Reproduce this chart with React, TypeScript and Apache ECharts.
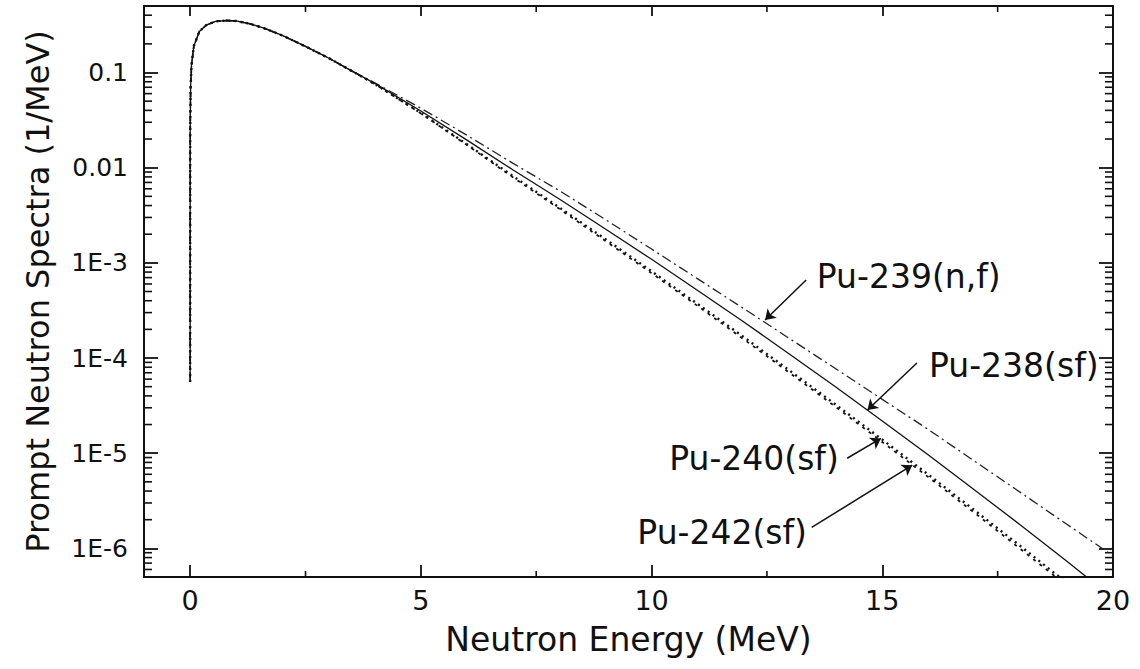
import React, { useEffect, useRef } from 'react';
import * as echarts from 'echarts';

// ---- data ----
const LOW_E = [0, 0.001, 0.01, 0.03, 0.08, 0.2, 0.35, 0.55, 0.8, 1.0, 1.3, 1.6, 2.0, 2.5, 3.0, 3.5];
const LOW_VALUES = [5.6e-5, 0.022, 0.07, 0.12, 0.19, 0.27, 0.315, 0.345, 0.352, 0.348, 0.325, 0.292, 0.245, 0.188, 0.142, 0.104];

const TAIL_E = [4, 5, 6, 7, 8, 9, 10, 11, 12, 13, 14, 15, 16, 17, 18, 19, 20];
const PU239_NF = [0.078, 0.0422, 0.0219, 0.01109, 5.75e-3, 2.85e-3, 1.396e-3, 6.79e-4, 3.3e-4, 1.59e-4, 7.66e-5, 3.68e-5, 1.77e-5, 8.24e-6, 3.85e-6, 1.79e-6, 8.36e-7];
const PU238_SF = [0.0768, 0.0394, 0.0195, 9.46e-3, 4.68e-3, 2.27e-3, 1.089e-3, 5.13e-4, 2.39e-4, 1.091e-4, 4.92e-5, 2.18e-5, 9.57e-6, 4.11e-6, 1.75e-6, 7.31e-7, 3.0e-7];
const PU240_SF = [0.0759, 0.0376, 0.0176, 8.13e-3, 3.82e-3, 1.774e-3, 8.15e-4, 3.69e-4, 1.656e-4, 7.33e-5, 3.21e-5, 1.39e-5, 5.94e-6, 2.51e-6, 1.05e-6, 4.33e-7, 1.77e-7];
const PU242_SF = [0.0757, 0.0372, 0.0173, 7.9e-3, 3.7e-3, 1.7e-3, 7.8e-4, 3.52e-4, 1.57e-4, 6.95e-5, 3.04e-5, 1.31e-5, 5.6e-6, 2.36e-6, 9.8e-7, 4.05e-7, 1.65e-7];

const SERIES_NAMES = ['Pu-239(n,f)', 'Pu-238(sf)', 'Pu-240(sf)', 'Pu-242(sf)'];

const X_MIN = -1;
const X_MAX = 20;
const Y_MIN = 5e-7;
const Y_MAX = 0.5;

const X_TICK_LABELS = ['0', '5', '10', '15', '20'];
const Y_TICK_VALUES = [1e-6, 1e-5, 1e-4, 1e-3, 0.01, 0.1];
const Y_TICK_LABELS = ['1E-6', '1E-5', '1E-4', '1E-3', '0.01', '0.1'];
const X_MINOR_TICKS = [2.5, 7.5, 12.5, 17.5];
const Y_MINOR_MANTISSAS = [2, 3, 4, 5, 6, 7, 8, 9];
const Y_MINOR_DECADES = [-7, -6, -5, -4, -3, -2, -1];

// annotations (data coordinates)
const ANNOT_TEXT_AT = [[13.57, 7.13e-4], [16.0, 8.43e-5], [10.37, 8.85e-6], [9.68, 1.47e-6]];
const ARROW_FROM = [[13.35, 6.6e-4], [15.75, 8.85e-5], [14.24, 8.85e-6], [13.47, 1.66e-6]];
const ARROW_TO = [[12.46, 2.51e-4], [14.68, 2.84e-5], [14.97, 1.43e-5], [15.65, 7.48e-6]];

const INK = '#111';
const FONT = 'DejaVu Sans';

function buildCurve(tail: number[]) {
  const pts: number[][] = [];
  LOW_E.forEach((e, i) => pts.push([e, LOW_VALUES[i]]));
  TAIL_E.forEach((e, i) => pts.push([e, tail[i]]));
  return pts;
}

const yMinorValues: number[][] = [];
Y_MINOR_DECADES.forEach((d) => {
  Y_MINOR_MANTISSAS.forEach((m) => {
    const v = m * Math.pow(10, d);
    if (v > Y_MIN * 1.0001 && v < Y_MAX * 0.9999) yMinorValues.push([X_MIN, v]);
  });
});
const xMinorValues = X_MINOR_TICKS.map((x) => [x, Y_MIN]);

export default function App() {
  const ref = useRef<HTMLDivElement>(null);
  useEffect(() => {
    if (!ref.current) return;
    const chart = echarts.init(ref.current, undefined, { renderer: 'svg' });
    const tickLine = { color: INK, width: 1.8 };
    const axisLine = { show: true, onZero: false, lineStyle: { color: INK, width: 2 } };
    const option: any = {
      animation: false,
      backgroundColor: '#fff',
      textStyle: { fontFamily: FONT, color: INK },
      grid: { left: 144, right: 27, top: 6, bottom: 92, containLabel: false },
      xAxis: [
        {
          type: 'value',
          min: X_MIN,
          max: X_MAX,
          position: 'bottom',
          axisLine,
          axisTick: { show: true, inside: true, length: 12, lineStyle: tickLine },
          axisLabel: {
            margin: 10,
            fontSize: 27,
            fontFamily: FONT,
            color: INK,
            formatter: (v: number) => {
              const s = String(Math.round(v));
              return Math.abs(v - Math.round(v)) < 1e-9 && X_TICK_LABELS.includes(s) ? s : '';
            },
          },
          splitLine: { show: false },
          name: 'Neutron Energy (MeV)',
          nameLocation: 'middle',
          nameGap: 46,
          nameTextStyle: { fontSize: 33, fontFamily: FONT, color: INK },
        },
        {
          type: 'value',
          min: X_MIN,
          max: X_MAX,
          position: 'top',
          axisLine,
          axisTick: { show: true, inside: true, length: 10, lineStyle: tickLine },
          axisLabel: { show: false },
          splitLine: { show: false },
        },
      ],
      yAxis: [
        {
          type: 'log',
          logBase: 10,
          min: Y_MIN,
          max: Y_MAX,
          position: 'left',
          axisLine,
          axisTick: { show: true, inside: true, length: 14, lineStyle: tickLine },
          axisLabel: {
            margin: 16,
            fontSize: 25,
            fontFamily: FONT,
            color: INK,
            formatter: (v: number) => {
              const lv = Math.log10(v);
              for (let i = 0; i < Y_TICK_VALUES.length; i++) {
                if (Math.abs(lv - Math.log10(Y_TICK_VALUES[i])) < 1e-6) return Y_TICK_LABELS[i];
              }
              return '';
            },
          },
          splitLine: { show: false },
          name: 'Prompt Neutron Spectra (1/MeV)',
          nameLocation: 'middle',
          nameGap: 90,
          nameTextStyle: { fontSize: 32, fontFamily: FONT, color: INK },
        },
        {
          type: 'log',
          logBase: 10,
          min: Y_MIN,
          max: Y_MAX,
          position: 'right',
          axisLine,
          axisTick: { show: true, inside: true, length: 14, lineStyle: tickLine },
          axisLabel: { show: false },
          splitLine: { show: false },
        },
      ],
      series: [
        {
          name: SERIES_NAMES[0],
          type: 'line',
          xAxisIndex: 0,
          yAxisIndex: 0,
          data: buildCurve(PU239_NF),
          showSymbol: false,
          symbol: 'none',
          silent: true,
          lineStyle: { color: '#222', width: 1.3, type: [10, 4, 2, 4] },
        },
        {
          name: SERIES_NAMES[1],
          type: 'line',
          xAxisIndex: 0,
          yAxisIndex: 0,
          data: buildCurve(PU238_SF),
          showSymbol: false,
          symbol: 'none',
          silent: true,
          lineStyle: { color: INK, width: 1.3, type: 'solid' },
          markLine: {
            silent: true,
            symbol: ['none', 'arrow'],
            symbolSize: 10,
            lineStyle: { color: INK, width: 1.5, type: 'solid' },
            label: { show: false },
            data: ARROW_FROM.map((f, i) => [{ coord: f }, { coord: ARROW_TO[i] }]),
          },
          markPoint: {
            silent: true,
            symbol: 'circle',
            symbolSize: 1,
            itemStyle: { color: 'rgba(0,0,0,0)' },
            label: {
              show: true,
              position: 'right',
              distance: 0,
              fontSize: 33,
              fontFamily: FONT,
              color: INK,
              formatter: (p: any) => p.name,
            },
            data: SERIES_NAMES.map((n, i) => ({ name: n, coord: ANNOT_TEXT_AT[i] })),
          },
        },
        {
          name: SERIES_NAMES[2],
          type: 'line',
          xAxisIndex: 0,
          yAxisIndex: 0,
          data: buildCurve(PU240_SF),
          showSymbol: false,
          symbol: 'none',
          silent: true,
          lineStyle: { color: INK, width: 2.4, type: [2, 4] },
        },
        {
          name: SERIES_NAMES[3],
          type: 'line',
          xAxisIndex: 0,
          yAxisIndex: 0,
          data: buildCurve(PU242_SF),
          showSymbol: false,
          symbol: 'none',
          silent: true,
          lineStyle: { color: INK, width: 1.8, type: [3, 5], dashOffset: 3 },
        },
        {
          type: 'custom',
          xAxisIndex: 0,
          yAxisIndex: 0,
          silent: true,
          data: yMinorValues,
          renderItem: (params: any, api: any) => {
            const v = api.value(1);
            const pL = api.coord([X_MIN, v]);
            const pR = api.coord([X_MAX, v]);
            const st = { stroke: INK, lineWidth: 1.6 };
            return {
              type: 'group',
              children: [
                { type: 'line', shape: { x1: pL[0], y1: pL[1], x2: pL[0] + 8, y2: pL[1] }, style: st },
                { type: 'line', shape: { x1: pR[0], y1: pR[1], x2: pR[0] - 8, y2: pR[1] }, style: st },
              ],
            };
          },
        },
        {
          type: 'custom',
          xAxisIndex: 0,
          yAxisIndex: 0,
          silent: true,
          data: xMinorValues,
          renderItem: (params: any, api: any) => {
            const x = api.value(0);
            const pB = api.coord([x, Y_MIN]);
            const pT = api.coord([x, Y_MAX]);
            const st = { stroke: INK, lineWidth: 1.6 };
            return {
              type: 'group',
              children: [
                { type: 'line', shape: { x1: pB[0], y1: pB[1], x2: pB[0], y2: pB[1] - 6 }, style: st },
                { type: 'line', shape: { x1: pT[0], y1: pT[1], x2: pT[0], y2: pT[1] + 6 }, style: st },
              ],
            };
          },
        },
      ],
    };
    chart.setOption(option);
    return () => {
      chart.dispose();
    };
  }, []);
  return (
    <div
      ref={ref}
      style={{ position: 'fixed', left: 0, top: 0, width: '1140px', height: '669px', background: '#fff' }}
    />
  );
}
